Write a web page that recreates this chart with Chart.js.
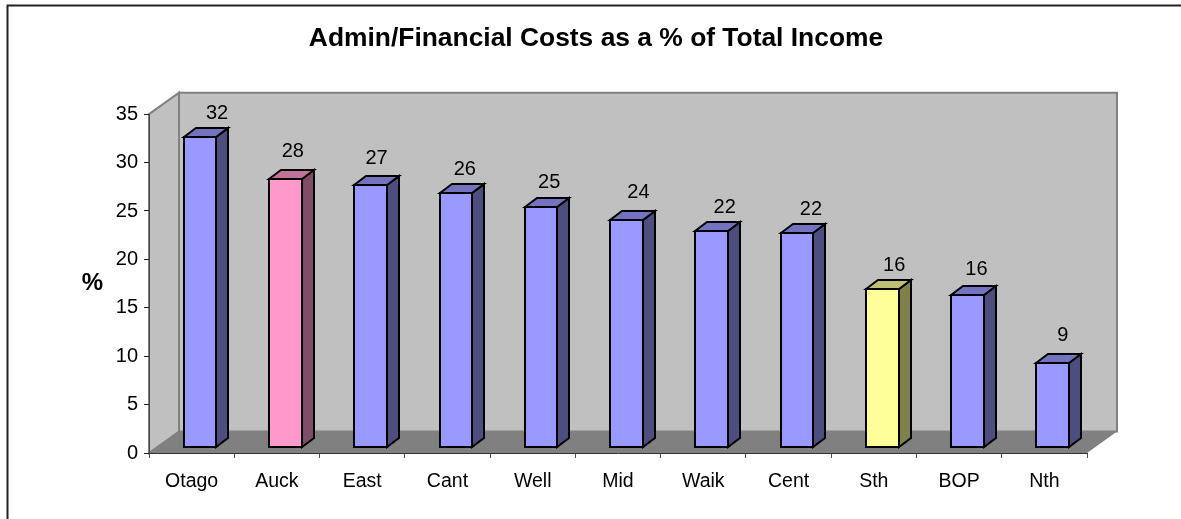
<!DOCTYPE html>
<html><head><meta charset="utf-8">
<style>html,body{margin:0;padding:0;background:#fff}#w{position:relative;width:1181px;height:519px}</style>
<script src="https://cdn.jsdelivr.net/npm/chart.js@4"></script>
</head><body><div id="w"><canvas id="c" width="1181" height="519"></canvas></div>
<script>
const categories = ['Otago','Auck','East','Cant','Well','Mid','Waik','Cent','Sth','BOP','Nth'];
const costPercent = [32.0,27.7,27.05,26.2,24.8,23.5,22.3,22.1,16.3,15.7,8.7];
const frontColors = ['#9999FF','#FF99CC','#9999FF','#9999FF','#9999FF','#9999FF','#9999FF','#9999FF','#FFFF99','#9999FF','#9999FF'];
const topColors   = ['#7373BF','#BF7399','#7373BF','#7373BF','#7373BF','#7373BF','#7373BF','#7373BF','#BFBF73','#7373BF','#7373BF'];
const sideColors  = ['#4D4D80','#804D66','#4D4D80','#4D4D80','#4D4D80','#4D4D80','#4D4D80','#4D4D80','#80804D','#4D4D80','#4D4D80'];
const labelNudgeX = [17,7.5,6,9,8,12,13,14,12,9,10];
const labelNudgeY = [-24,-28,-27,-24,-25,-28,-24,-24,-24,-26,-28];

const FONT = '"Liberation Sans", Arial, sans-serif';
const WALL_DX = 30, WALL_DY = -21.5;     // perspective of the box
const BAR_DX = 8.4, BAR_DY = -6;         // bar row sits inside the box
const DEPTH_DX = 12, DEPTH_DY = -9;      // bar depth

function poly(ctx, pts, fill, stroke, lw){
  ctx.beginPath();
  pts.forEach((p,i)=> i?ctx.lineTo(p[0],p[1]):ctx.moveTo(p[0],p[1]));
  ctx.closePath();
  if(fill){ctx.fillStyle=fill;ctx.fill();}
  if(stroke){ctx.strokeStyle=stroke;ctx.lineWidth=lw;ctx.lineJoin='miter';ctx.stroke();}
}
function face(b){
  return {
    l:Math.round(b.x+BAR_DX-b.width/2),
    r:Math.round(b.x+BAR_DX+b.width/2),
    t:Math.round(b.y+BAR_DY),
    b:Math.round(b.base+BAR_DY)
  };
}
const box3d = {
  id:'box3d',
  beforeDraw(chart){
    const {ctx,chartArea:a}=chart;
    ctx.save();
    ctx.fillStyle='#fff';ctx.fillRect(0,0,chart.width,chart.height);
    ctx.strokeStyle='#222';ctx.lineWidth=2;
    ctx.beginPath();ctx.moveTo(7.5,519);ctx.lineTo(7.5,5.5);ctx.lineTo(1181,5.5);ctx.stroke();
    const L=a.left,R=a.right,T=a.top,B=a.bottom,dx=WALL_DX,dy=WALL_DY;
    poly(ctx,[[L+dx,T+dy],[R+dx,T+dy],[R+dx,B+dy],[L+dx,B+dy]],'#C0C0C0','#808080',2);
    poly(ctx,[[L,T],[L+dx,T+dy],[L+dx,B+dy],[L,B]],'#C0C0C0','#808080',2);
    poly(ctx,[[L,B],[L+dx,B+dy],[R+dx,B+dy],[R,B]],'#808080');
    ctx.restore();
    ctx.save();
    ctx.font='bold 24px '+FONT;ctx.fillStyle='#000';ctx.textAlign='center';ctx.textBaseline='middle';
    ctx.fillText('%',92.5,283);
    ctx.restore();
  },
  beforeDatasetsDraw(chart){
    const {ctx}=chart;
    const bars=chart.getDatasetMeta(0).data;
    ctx.save();
    bars.forEach((b,i)=>{
      const f=face(b),dx=DEPTH_DX,dy=DEPTH_DY;
      poly(ctx,[[f.r,f.t],[f.r+dx,f.t+dy],[f.r+dx,f.b+dy],[f.r,f.b]],sideColors[i],'#000',2);
      poly(ctx,[[f.l,f.t],[f.l+dx,f.t+dy],[f.r+dx,f.t+dy],[f.r,f.t]],topColors[i],'#000',2);
    });
    ctx.restore();
    ctx.save();
    ctx.translate(BAR_DX,BAR_DY);
  },
  afterDatasetsDraw(chart){
    const {ctx}=chart;
    ctx.restore();
    const bars=chart.getDatasetMeta(0).data;
    ctx.save();
    bars.forEach(b=>{
      const f=face(b);
      poly(ctx,[[f.l,f.t],[f.r,f.t],[f.r,f.b],[f.l,f.b]],null,'#000',2);
    });
    ctx.font='20px '+FONT;ctx.fillStyle='#000';ctx.textAlign='center';ctx.textBaseline='middle';
    bars.forEach((b,i)=>{
      ctx.fillText(costPercent[i].toFixed(0), b.x+BAR_DX+labelNudgeX[i], b.y+BAR_DY+labelNudgeY[i]+0.5);
    });
    ctx.restore();
  }
};
new Chart(document.getElementById('c'),{
  type:'bar',
  data:{labels:categories,datasets:[{
    data:costPercent,backgroundColor:frontColors,borderWidth:0,
    barPercentage:0.382,categoryPercentage:1,clip:false
  }]},
  plugins:[box3d],
  options:{
    responsive:false,animation:false,
    layout:{padding:{left:11,right:0,top:0,bottom:0}},
    plugins:{
      legend:{display:false},tooltip:{enabled:false},
      title:{display:true,text:'Admin/Financial Costs as a % of Total Income',color:'#000',
        font:{family:FONT,size:26.4,weight:'bold',lineHeight:1.2},padding:{top:22.5,bottom:60}}
    },
    scales:{
      x:{
        grid:{offset:true,drawOnChartArea:false,tickLength:5,color:'#555',lineWidth:1},
        border:{color:'#333',width:1},
        ticks:{color:'#000',font:{family:FONT,size:19.5},padding:12,maxRotation:0,autoSkip:false},
        afterFit(s){s.height=66;}
      },
      y:{
        min:0,max:35,
        grid:{drawOnChartArea:false,tickLength:5,color:'#222',lineWidth:1},
        border:{color:'#444',width:1},
        ticks:{stepSize:5,color:'#000',font:{family:FONT,size:20},padding:6},
        afterFit(s){s.width=138;}
      },
      pad:{
        position:'right',display:true,min:0,max:1,
        grid:{display:false},border:{display:false},ticks:{display:false},
        afterFit(s){s.width=94;}
      }
    }
  }
});
</script></body></html>
